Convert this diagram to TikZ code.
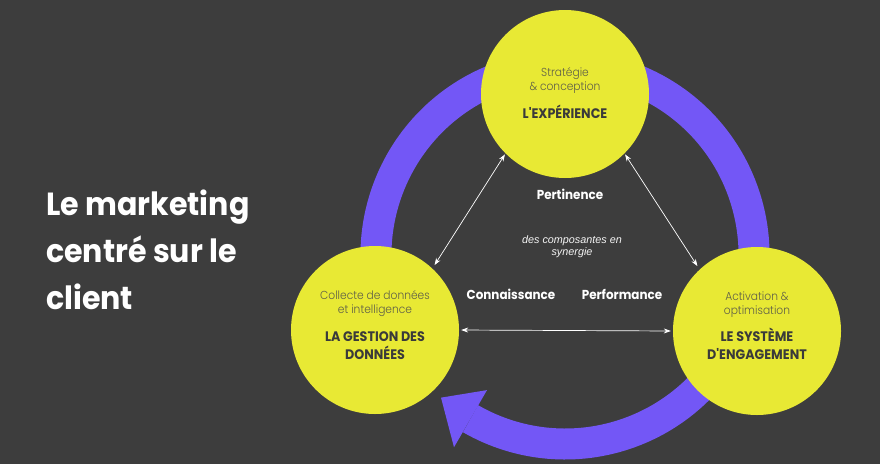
\documentclass[tikz,border=0pt]{standalone}
\usepackage{fontspec}
\setmainfont{Poppins}
\newfontfamily\titlefont[FakeStretch=0.94]{Poppins}
\newfontfamily\labfont[FakeStretch=0.92]{Poppins}
\newfontfamily\lightfont[FakeStretch=0.92]{Poppins Light}
\newfontfamily\itfont{Liberation Sans}
\usetikzlibrary{arrows.meta,calc}
\definecolor{bg}{HTML}{3D3D3D}
\definecolor{ring}{HTML}{7357F6}
\definecolor{bub}{HTML}{E8E934}
\definecolor{subtxt}{HTML}{5E5E48}
\definecolor{ttxt}{HTML}{3A3A3A}
\tikzset{
  bubble/.style={circle,fill=bub,minimum size=168pt,inner sep=0pt},
  subl/.style={font=\lightfont\fontsize{11.6}{14}\selectfont,text=subtxt,align=center},
  titl/.style={font=\labfont\bfseries\fontsize{13.8}{17.5}\selectfont,text=ttxt,align=center},
  wlab/.style={font=\labfont\bfseries\fontsize{13}{15}\selectfont,text=white},
  link/.style={draw=white,line width=0.7pt,{Stealth[length=7pt,width=5pt]}-{Stealth[length=7pt,width=5pt]}}
}
\begin{document}
\begin{tikzpicture}[x=1pt,y=-1pt]
\fill[bg] (0,0) rectangle (880,464);
\useasboundingbox (0,0) rectangle (880,464);
\coordinate (c) at (565,255);
% ring
\draw[ring,line width=31pt] ($(c)+(160:189)$) arc[start angle=160,end angle=480,radius=189];
\fill[ring] ($(c)+(120:156)$) -- ($(c)+(131:189)$) -- ($(c)+(120:222)$) -- cycle;
% bubbles
\node[bubble] (top) at (565,94) {};
\node[bubble] (left) at (375,330) {};
\node[bubble] (right) at (757,331) {};
% links
\draw[link,shorten <=1pt,shorten >=4pt] (top.225) -- (left.47);
\draw[link,shorten <=1pt,shorten >=4pt] (top.-45) -- (right.133);
\draw[link,shorten <=2pt,shorten >=2pt] (left.east) -- (right.west);
% bubble texts (base = baseline of last line)
\node[subl,anchor=base] (ts) at (565,90) {Stratégie\\\& conception};
\node[titl,anchor=base] (tt) at (565,118) {L'EXPÉRIENCE};
\node[subl,anchor=base] (ls) at (375,313) {Collecte de données\\et intelligence};
\node[titl,anchor=base] (lt) at (375,359) {LA GESTION DES\\DONNÉES};
\node[subl,anchor=base] (rs) at (757,314) {Activation \&\\optimisation};
\node[titl,anchor=base] (rt) at (757,359) {LE SYSTÈME\\D'ENGAGEMENT};
% centre labels
\node[wlab,anchor=base] (pert) at (570,199) {Pertinence};
\node[wlab,anchor=base] (conn) at (511,299) {Connaissance};
\node[wlab,anchor=base] (perf) at (622,299) {Performance};
\node[font=\itfont\itshape\fontsize{10.8}{12}\selectfont,text=white!92!gray,align=center,anchor=base] (syn) at (572,255) {des composantes en\\synergie};
% title
\node[font=\titlefont\bfseries\fontsize{32}{47}\selectfont,text=white,align=left,anchor=base west,inner sep=0pt] (title) at (46,309) {Le marketing\\centré sur le\\client};
\end{tikzpicture}
\end{document}
